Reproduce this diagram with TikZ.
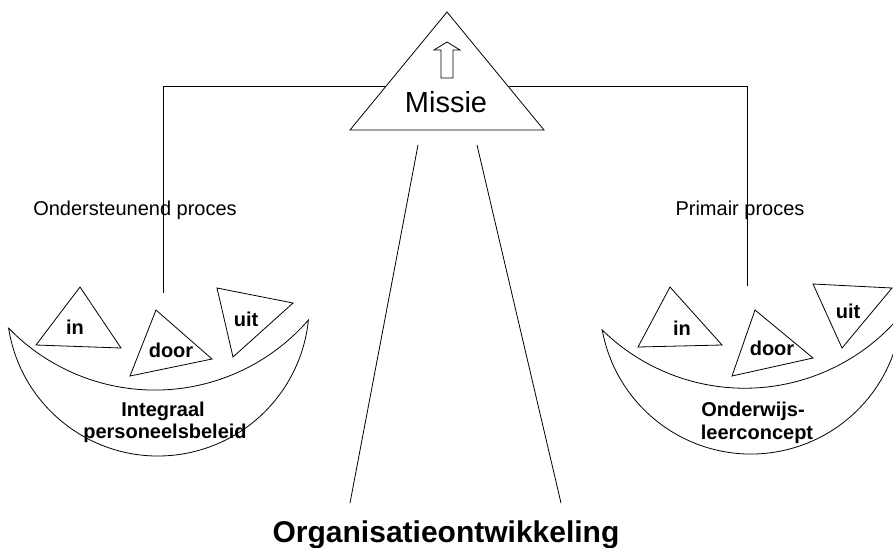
\documentclass[tikz,border=0pt]{standalone}
\usepackage{fontspec}
\setmainfont{Liberation Sans}
\begin{document}
\begin{tikzpicture}[x=1pt,y=-1pt,line width=0.8pt,
    lbl/.style={font=\fontsize{20}{24}\selectfont\bfseries,inner sep=0pt,anchor=base},
    proces/.style={font=\fontsize{20}{24}\selectfont,inner sep=0pt,anchor=base}]
    \useasboundingbox (0,0) rectangle (893,547);
    % missie
    \draw (447,12) coordinate (m_top) -- (544,130) coordinate (m_r) -- (350,130) coordinate (m_l) -- cycle;
    \draw (441,78) -- (441,50) -- (434,50) -- (447,42) -- (460,50) -- (453,50) -- (453,78) -- cycle;
    \node (missie) at (446,112) [anchor=base,inner sep=0pt,font=\fontsize{29}{34}\selectfont] {Missie};
    \coordinate (h_l) at (386,86);
    \coordinate (h_r) at (508,86);
    \coordinate (v_l) at (163,293);
    \coordinate (v_r) at (747,286);
    \draw (v_l) |- (h_l);
    \draw (v_r) |- (h_r);
    \node (ondst) at (135,215) [proces] {Ondersteunend proces};
    \node (prim) at (740,215) [proces] {Primair proces};
    % organisatieontwikkeling
    \draw (418,145) coordinate (o_1) -- (350,503) coordinate (o_2);
    \draw (477,145) coordinate (o_3) -- (561,503) coordinate (o_4);
    \node (org) at (446,542) [anchor=base,inner sep=0pt,font=\fontsize{30}{36}\selectfont\bfseries] {Organisatieontwikkeling};
    % schaal links
    \begin{scope}[shift={(158.5,324)},rotate=1.5]
        \draw (-150,0) coordinate (sl_a) arc[start angle=187.3,end angle=352.7,radius=151.2pt] coordinate (sl_b)
            arc[start angle=-42.5,end angle=-137.5,radius=203.5pt] -- cycle;
    \end{scope}
    \draw (80,287) -- (121,348) -- (36,345) -- cycle;
    \draw (156,310) -- (212,359) -- (130,376) -- cycle;
    \draw (217,288) -- (293,303) -- (233,357) -- cycle;
    \node (in_l) at (75,334) [lbl] {in};
    \node (door_l) at (171,357) [lbl] {door};
    \node (uit_l) at (246,326) [lbl] {uit};
    \node (ipb_1) at (163,416) [lbl] {Integraal};
    \node (ipb_2) at (165,438) [lbl] {personeelsbeleid};
    % schaal rechts
    \begin{scope}[shift={(752,322)},rotate=3]
        \draw (-150,0) coordinate (sr_a) arc[start angle=187.3,end angle=352.7,radius=151.2pt] coordinate (sr_b)
            arc[start angle=-42.5,end angle=-137.5,radius=203.5pt] -- cycle;
    \end{scope}
    \draw (670,287) -- (722,345) -- (638,347) -- cycle;
    \draw (755,310) -- (813,358) -- (732,376) -- cycle;
    \draw (813,284) -- (892,288) -- (842,348) -- cycle;
    \node (in_r) at (682,335) [lbl] {in};
    \node (door_r) at (772,355) [lbl] {door};
    \node (uit_r) at (848,318) [lbl] {uit};
    \node (olc_1) at (753,416) [lbl] {Onderwijs-};
    \node (olc_2) at (757,439) [lbl] {leerconcept};
\end{tikzpicture}
\end{document}
